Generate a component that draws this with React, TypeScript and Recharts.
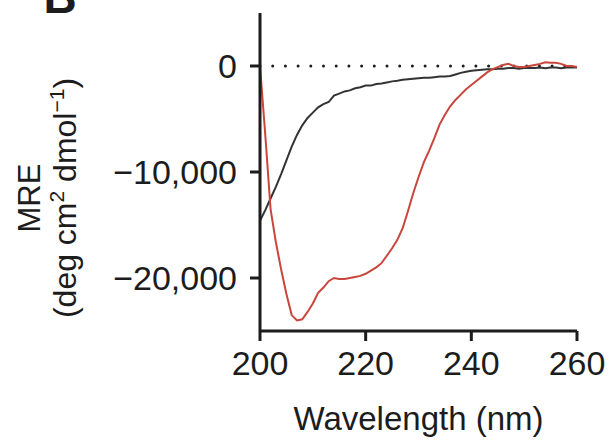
import { LineChart, Line, XAxis, YAxis, ReferenceLine, Label } from 'recharts'

const wavelengths = [
  200, 201, 202, 203, 204, 205, 206, 207, 208, 209, 210, 211, 212, 213, 214, 215, 216, 217, 218, 219, 220,
  221, 222, 223, 224, 225, 226, 227, 228, 229, 230, 231, 232, 233, 234, 235, 236, 237, 238, 239, 240,
  241, 242, 243, 244, 245, 246, 247, 248, 249, 250, 251, 252, 253, 254, 255, 256, 257, 258, 259, 260,
]

// black trace
const mreBlack = [
  -14600, -13600, -12500, -11400, -10200, -8900, -7600, -6500, -5600, -4900, -4400, -3900, -3600, -3400, -2800, -2600,
  -2400, -2300, -2100, -2000, -1850, -1850, -1700, -1650, -1550, -1450, -1400, -1300, -1250, -1200, -1150, -1100, -1100,
  -1050, -1000, -1000, -950, -800, -650, -550, -450, -400, -350, -300, -300, -250, -250, -200, -200, -250, -200, -200,
  -200, -150, -200, -150, -150, -200, -150, -150, -150,
]

// red trace
const mreRed = [
  0, -6500, -13500, -16600, -19200, -21500, -23500, -24000, -23900, -23200, -22400, -21400, -20900, -20300, -20000,
  -20100, -20100, -20000, -19900, -19800, -19600, -19300, -19000, -18600, -17900, -17200, -16400, -15300, -13700,
  -12000, -10500, -9100, -8000, -6800, -5500, -4600, -3800, -3200, -2700, -2200, -1800, -1400, -1000, -600, -300, -100,
  100, 200, 0, -100, -100, 0, 100, 200, 350, 300, 300, 200, 0, 0, -100,
]

const xTicks = [200, 220, 240, 260]
const yTicks = [0, -10000, -20000]

const data = wavelengths.map((wl, i) => ({ wl, black: mreBlack[i], red: mreRed[i] }))

const font = '"Liberation Sans", Arial, sans-serif'
const ink = '#1c1c1c'

const fmt = (v: number) => (v < 0 ? '\u2212' + Math.abs(v).toLocaleString('en-US') : String(v))

function YLabel() {
  return (
    <g fill={ink} fontFamily={font}>
      <text x={60} y={13} fontSize={46} fontWeight="bold" textAnchor="middle">
        B
      </text>
      <text x={40} y={198} fontSize={31} textAnchor="middle" transform="rotate(-90 40 198)">
        MRE
      </text>
      <text x={76} y={198} fontSize={32} textAnchor="middle" transform="rotate(-90 76 198)">
        (deg cm
        <tspan fontSize={21} dy={-12}>2</tspan>
        <tspan dy={12}> dmol</tspan>
        <tspan fontSize={21} dy={-12}>{'\u22121'}</tspan>
        <tspan dy={12}>)</tspan>
      </text>
    </g>
  )
}

export default function App() {
  return (
    <div style={{ position: 'absolute', left: 0, top: 0, background: '#fff' }}>
      <LineChart width={613} height={441} data={data} margin={{ top: 13, right: 36, left: 0, bottom: 0 }}>
        <XAxis
          dataKey="wl"
          type="number"
          domain={[200, 260]}
          ticks={xTicks}
          height={110}
          tickSize={10}
          tickMargin={10}
          stroke={ink}
          strokeWidth={3}
          tick={{ fill: ink, fontSize: 34, fontFamily: font }}
          tickLine={{ stroke: ink, strokeWidth: 3 }}
        >
          <Label
            value="Wavelength (nm)"
            position="insideBottom"
            offset={11}
            fill={ink}
            fontSize={33}
            fontFamily={font}
          />
        </XAxis>
        <YAxis
          type="number"
          domain={[-25000, 5000]}
          ticks={yTicks}
          width={260}
          tickSize={10}
          tickMargin={13}
          tickFormatter={fmt}
          stroke={ink}
          strokeWidth={3}
          tick={{ fill: ink, fontSize: 34, fontFamily: font }}
          tickLine={{ stroke: ink, strokeWidth: 3 }}
          label={<YLabel />}
        />
        <ReferenceLine y={0} stroke={ink} strokeWidth={3} strokeDasharray="0 12.7" strokeLinecap="round" />
        <Line type="linear" dataKey="black" stroke="#333333" strokeWidth={2} dot={false} isAnimationActive={false} />
        <Line type="linear" dataKey="red" stroke="#c9463c" strokeWidth={2} dot={false} isAnimationActive={false} />
      </LineChart>
    </div>
  )
}
